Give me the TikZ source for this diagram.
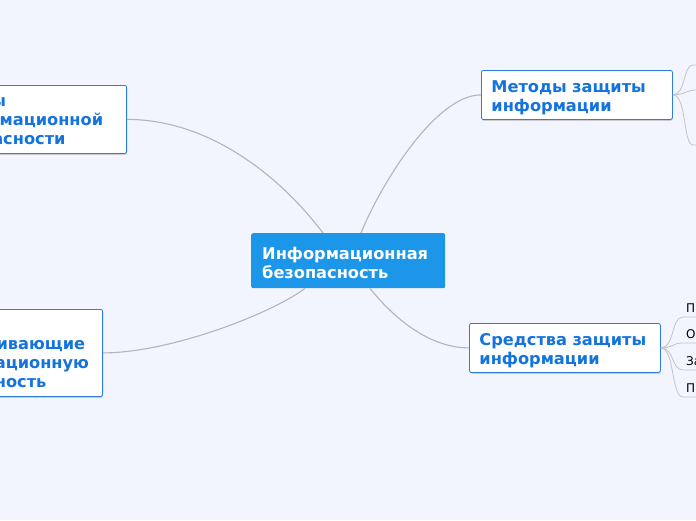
\documentclass[tikz,border=0pt]{standalone}
\usepackage{fontspec}
\setmainfont{DejaVu Sans}
\usepackage{xcolor}
\usepackage{tikz}
\usetikzlibrary{positioning,shapes,arrows.meta,shadows,calc}
\definecolor{bgblue}{RGB}{242,245,253}
\definecolor{rootblue}{RGB}{28,150,232}
\definecolor{topicblue}{RGB}{20,115,220}
\definecolor{edgeblue}{RGB}{45,125,222}
\definecolor{linkgray}{RGB}{180,180,186}
\newcommand{\topicfont}{\bfseries\fontsize{16.2}{19}\selectfont}
\newcommand{\firstline}{\rule{0pt}{17pt}}
\tikzstyle{root}=[%
      rectangle, rounded corners=2pt, fill=rootblue, text=white, font=\topicfont,
      anchor=north west, align=left, text width=172pt, inner xsep=11pt, inner ysep=2pt, minimum height=55pt
]
\tikzstyle{topic}=[%
      rectangle, rounded corners=2pt, draw=edgeblue, line width=0.8pt, fill=white,
      drop shadow={shadow xshift=0.3pt, shadow yshift=-1.2pt, opacity=0.25, fill=black},
      text=topicblue, font=\topicfont, align=left, inner xsep=10pt, inner ysep=2pt
]
\tikzstyle{sub}=[%
      font=\fontsize{12}{14}\selectfont, text=black, anchor=south west, inner xsep=3pt, inner ysep=4pt
]
\tikzstyle{link}=[draw=linkgray, line width=1.1pt]
\tikzstyle{twig}=[draw=linkgray!80, line width=0.8pt]

\newlength{\threatw}
\newlength{\guardw}

\begin{document}
\settowidth{\threatw}{\topicfont инфор}\addtolength{\threatw}{116pt}
\settowidth{\guardw}{\topicfont обеспеч}\addtolength{\guardw}{95pt}
\begin{tikzpicture}[x=1pt,y=-1pt]
    \useasboundingbox (0,0) rectangle (696,520);
    \clip (0,0) rectangle (696,520);
    \fill[bgblue] (0,0) rectangle (696,520);

    % main topics
    \node[root] (root) at (251,233) {\firstline Информационная\\безопасность};
    \node[topic, anchor=north west, text width=171pt, minimum height=49pt] (methods) at (481,70) {\firstline Методы защиты\\информации};
    \node[topic, anchor=north west, text width=171pt, minimum height=49pt] (means) at (469,323) {\firstline Средства защиты\\информации};
    \node[topic, anchor=north east, text width=\threatw, minimum height=68pt, inner xsep=11pt] (threats) at (127,85) {\strut Угрозы\\информационной\\безопасности};
    \node[topic, anchor=north east, text width=\guardw, minimum height=87pt, inner xsep=11pt] (guard) at (103,309) {\strut\\обеспечивающие\\информационную\\безопасность};

    % subtopics of the means
    \node[sub] (p1) at (683,317) {П};
    \node[sub] (p2) at (683,343) {О};
    \node[sub] (p3) at (683,370) {За};
    \node[sub] (p4) at (683,397) {П};

    % subtopics of the methods, off the page
    \coordinate (m1) at (693,65);
    \coordinate (m2) at (696,90);
    \coordinate (m3) at (693,145);

    \draw[link] ($(root.north west)+(72,0)$) .. controls +(-43,-57) and +(82,0) .. (threats.east);
    \draw[link] ($(root.south west)+(54,0)$) .. controls +(-35,26) and +(66,0) .. (guard.east);
    \draw[link] ($(root.north west)+(110,0)$) .. controls +(19,-47) and +(-46,0) .. (methods.west);
    \draw[link] ($(root.south west)+(119,0)$) .. controls +(25,31) and +(-39,0) .. (means.west);

    \draw[twig] (methods.east) .. controls +(13,0) and +(-10,0) .. (m1) -- +(20,0);
    \draw[twig] (methods.east) .. controls +(12,0) and +(-10,0) .. (m2) -- +(20,0);
    \draw[twig] (methods.east) .. controls +(14,0) and +(-10,0) .. (m3) -- +(20,0);

    \draw[twig] (means.east) .. controls +(14,0) and +(-12,0) .. (p1.south west) -- (p1.south east) -- +(20,0);
    \draw[twig] (means.east) .. controls +(14,0) and +(-12,0) .. (p2.south west) -- (p2.south east) -- +(20,0);
    \draw[twig] (means.east) .. controls +(14,0) and +(-12,0) .. (p3.south west) -- (p3.south east) -- +(20,0);
    \draw[twig] (means.east) .. controls +(14,0) and +(-12,0) .. (p4.south west) -- (p4.south east) -- +(20,0);
\end{tikzpicture}
\end{document}
